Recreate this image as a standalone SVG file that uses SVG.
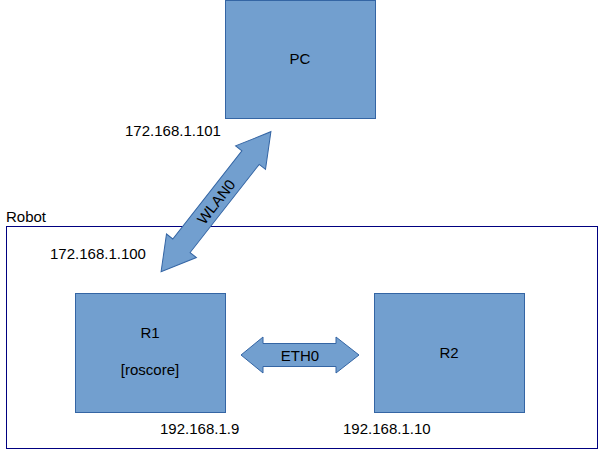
<svg xmlns="http://www.w3.org/2000/svg" width="600" height="450" viewBox="0 0 600 450">
<style>
.box{fill:#729fcf;stroke:#3465a4;stroke-width:1}
.arrow{fill:#729fcf;stroke:#3465a4;stroke-width:1}
text{font-family:"Liberation Sans",Arial,sans-serif;font-size:15px;fill:#000}
.c{text-anchor:middle}
</style>
<rect width="600" height="450" fill="#fff"/>
<g id="robot">
<rect x="6.5" y="226.5" width="591" height="222" fill="none" stroke="#000080" stroke-width="1"/>
<text x="6" y="222">Robot</text>
</g>
<g id="pc">
<rect class="box" x="225.5" y="0.5" width="150" height="118"/>
<text class="c" x="300" y="64">PC</text>
</g>
<g id="r1">
<rect class="box" x="75.5" y="293.5" width="150" height="119"/>
<text class="c" x="150" y="338">R1</text>
<text class="c" x="150" y="375">[roscore]</text>
</g>
<g id="r2">
<rect class="box" x="374.5" y="293.5" width="150" height="119"/>
<text class="c" x="449" y="358">R2</text>
</g>
<g id="connectors">
<g transform="translate(216,201.7) rotate(-51.9)">
<polygon class="arrow" points="-89,0 -56,-19 -56,-11 56,-11 56,-19 89,0 56,19 56,11 -56,11 -56,19"/>
<text class="c" x="0" y="5.5">WLAN0</text>
</g>
<polygon class="arrow" points="241,355 263,337 263,343.5 336,343.5 336,337 359,355 336,373 336,366.5 263,366.5 263,373"/>
<text class="c" x="300" y="361">ETH0</text>
</g>
<g id="labels">
<text x="125" y="136">172.168.1.101</text>
<text x="50" y="259">172.168.1.100</text>
<text x="160" y="434">192.168.1.9</text>
<text x="343" y="434">192.168.1.10</text>
</g>
</svg>
